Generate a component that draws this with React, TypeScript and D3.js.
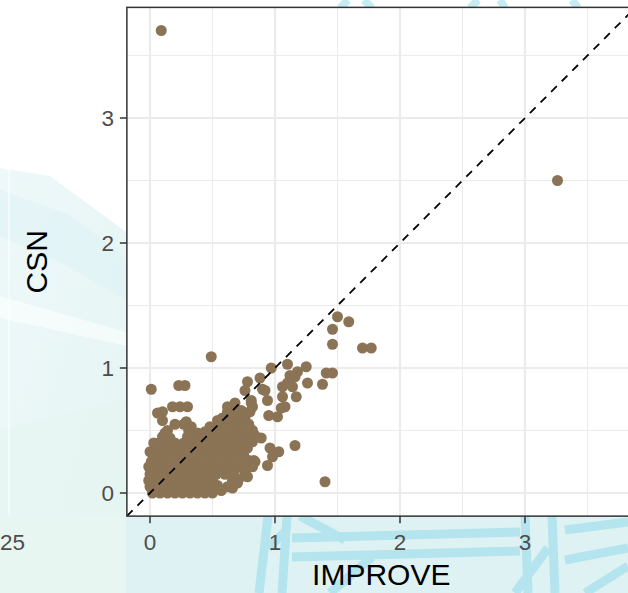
import React, { useEffect } from "react";
import * as d3 from "d3";

// [IMPROVE, CSN] pairs
const outliers: [number, number][] = [
  [0.09, 3.7], [3.26, 2.5], [0.49, 1.09], [0.01, 0.83], [1.4, 0.09], [1.16, 0.38],
];

const upperArm: [number, number][] = [
  [1.5, 1.41], [1.59, 1.37], [1.46, 1.31], [1.46, 1.19], [1.7, 1.16], [1.77, 1.16],
  [0.97, 1.0], [1.1, 1.03], [1.25, 1.01], [1.41, 0.96], [1.46, 0.96], [1.38, 0.87],
  [1.26, 0.88], [1.17, 0.77], [1.12, 0.94], [1.16, 0.93], [1.1, 0.88], [1.14, 0.85],
  [1.18, 0.97], [1.06, 0.85], [1.06, 0.77], [1.05, 0.68], [1.02, 0.61], [0.95, 0.62],
  [0.9, 0.83], [0.94, 0.74], [0.88, 0.92], [0.78, 0.89], [0.76, 0.82], [0.92, 0.82],
  [0.81, 0.74], [0.82, 0.69], [1.08, 0.69],
  [0.89, 0.44], [0.96, 0.36], [1.03, 0.33], [0.98, 0.29], [0.94, 0.22], [0.83, 0.26], [0.82, 0.21],
];

const blobEdge: [number, number][] = [
  [0.23, 0.86], [0.28, 0.86], [0.18, 0.69], [0.24, 0.69], [0.3, 0.69], [0.06, 0.64],
  [0.1, 0.65], [0.1, 0.58], [0.29, 0.57], [0.33, 0.53], [0.12, 0.48], [0.0, 0.33], [-0.01, 0.21],
  [0.65, 0.68], [0.62, 0.69], [0.73, 0.66], [0.81, 0.72], [0.68, 0.72], [0.54, 0.58],
  [0.44, 0.49], [0.48, 0.53], [0.54, 0.06], [0.62, 0.05], [0.7, 0.08], [0.78, 0.13], [0.84, 0.25],
  [-0.01, 0.1], [0.03, 0.4], [0.57, 0.02], [0.66, 0.04],
];

const blobCore: [number, number][] = [
  [0.02, 0.0], [0.08, 0.0], [0.14, 0.0], [0.2, 0.0], [0.26, 0.0], [0.32, 0.0], [0.38, 0.0], [0.44, 0.0], [0.5, 0.0],
  [0.0, 0.05], [0.05, 0.05], [0.11, 0.05], [0.17, 0.05], [0.23, 0.05], [0.29, 0.05], [0.35, 0.05], [0.41, 0.05], [0.47, 0.05],
  [0.02, 0.1], [0.08, 0.1], [0.14, 0.1], [0.2, 0.1], [0.26, 0.1], [0.32, 0.1], [0.38, 0.1], [0.44, 0.1], [0.5, 0.1], [0.66, 0.1], [0.71, 0.11],
  [0.0, 0.15], [0.05, 0.15], [0.11, 0.15], [0.17, 0.15], [0.23, 0.15], [0.29, 0.15], [0.35, 0.15], [0.41, 0.15], [0.47, 0.15], [0.53, 0.15], [0.6, 0.15], [0.67, 0.15], [0.76, 0.16],
  [0.02, 0.2], [0.08, 0.2], [0.14, 0.2], [0.2, 0.2], [0.26, 0.2], [0.32, 0.2], [0.38, 0.2], [0.44, 0.2], [0.5, 0.2], [0.56, 0.2], [0.62, 0.2], [0.68, 0.2], [0.74, 0.2],
  [0.01, 0.25], [0.06, 0.25], [0.12, 0.25], [0.18, 0.25], [0.24, 0.25], [0.3, 0.25], [0.36, 0.25], [0.42, 0.25], [0.48, 0.25], [0.54, 0.25], [0.6, 0.25], [0.66, 0.25], [0.72, 0.25], [0.79, 0.26],
  [0.03, 0.3], [0.09, 0.3], [0.15, 0.3], [0.21, 0.3], [0.27, 0.3], [0.33, 0.3], [0.39, 0.3], [0.45, 0.3], [0.51, 0.3], [0.57, 0.3], [0.63, 0.3], [0.69, 0.3], [0.75, 0.3],
  [0.05, 0.35], [0.12, 0.35], [0.18, 0.35], [0.24, 0.35], [0.3, 0.35], [0.36, 0.35], [0.42, 0.35], [0.48, 0.35], [0.54, 0.35], [0.6, 0.35], [0.66, 0.35], [0.72, 0.35], [0.78, 0.36],
  [0.07, 0.4], [0.14, 0.4], [0.2, 0.4], [0.27, 0.4], [0.33, 0.4], [0.39, 0.4], [0.45, 0.4], [0.51, 0.4], [0.57, 0.4], [0.63, 0.4], [0.69, 0.4], [0.75, 0.4], [0.82, 0.41],
  [0.1, 0.45], [0.16, 0.44], [0.3, 0.45], [0.36, 0.45], [0.42, 0.45], [0.48, 0.45], [0.54, 0.45], [0.6, 0.45], [0.66, 0.45], [0.72, 0.45], [0.78, 0.45], [0.84, 0.46],
  [0.14, 0.5], [0.31, 0.5], [0.38, 0.48], [0.52, 0.5], [0.58, 0.5], [0.64, 0.5], [0.7, 0.5], [0.76, 0.5], [0.82, 0.5],
  [0.2, 0.55], [0.27, 0.55], [0.55, 0.55], [0.61, 0.55], [0.67, 0.55], [0.73, 0.55], [0.79, 0.55],
  [0.58, 0.6], [0.64, 0.6], [0.7, 0.6], [0.76, 0.6], [0.62, 0.65], [0.68, 0.65], [0.74, 0.65], [0.8, 0.65],
];

const majorBreaks = [0, 1, 2, 3];
const minorBreaks = [0.5, 1.5, 2.5, 3.5];
const tickLabels = ["0", "1", "2", "3"];

const W = 628;
const H = 593;
const font = "'Liberation Sans', Arial, Helvetica, sans-serif";

const App: React.FC = () => {
  useEffect(() => {
    document.body.style.margin = "0";
  }, []);

  const lim: [number, number] = [-0.185, 3.885];
  const x = d3.scaleLinear().domain(lim).range([150 - 0.185 * 125, 150 + 3.885 * 125]);
  const y = d3.scaleLinear().domain(lim).range([493 + 0.185 * 125, 493 - 3.885 * 125]);
  const [x0, x1] = x.range();
  const [y0, y1] = y.range();

  const allPoints = [...blobCore, ...blobEdge, ...upperArm, ...outliers];
  const diag = d3.line<number>().x(d => x(d)).y(d => y(d))(lim) as string;

  const strut = "#b4e4ee";

  return (
    <svg width={W} height={H} style={{ display: "block" }} fontFamily={font}>
      <defs>
        <clipPath id="panel">
          <rect x={x0} y={y1} width={x1 - x0} height={y0 - y1} />
        </clipPath>
        <linearGradient id="wash" x1="0" y1="0" x2="1" y2="1">
          <stop offset="0" stopColor="#eef8fa" />
          <stop offset="1" stopColor="#e4f4f2" />
        </linearGradient>
      </defs>

      {/* watercolour backdrop */}
      <rect width={W} height={H} fill="#ffffff" />
      <path d="M0,168 L50,176 L126,232 L126,593 L0,593 Z" fill="url(#wash)" />
      <path d="M0,190 L70,215 L126,258 L126,300 L60,262 L0,236 Z" fill="#dcf1f6" opacity={0.5} />
      <path d="M0,296 L126,332 L126,346 L0,318 Z" fill="#ffffff" opacity={0.55} />
      <path d="M0,430 L126,400 L126,593 L0,593 Z" fill="#e6f5f0" opacity={0.5} />
      <line x1={9} y1={140} x2={9} y2={593} stroke="#ffffff" strokeWidth={1.5} opacity={0.7} />
      <rect x={126} y={516} width={W - 126} height={H - 516} fill="#dff2f3" />
      <rect x={0} y={516} width={126} height={H - 516} fill="#e8f6f2" />
      <g stroke={strut} strokeWidth={9} fill="none" strokeLinecap="butt">
        <line x1={268} y1={516} x2={259} y2={593} />
        <line x1={287} y1={516} x2={282} y2={593} />
        <line x1={268} y1={548} x2={287} y2={530} />
        <line x1={300} y1={516} x2={345} y2={540} />
        <line x1={292} y1={538} x2={520} y2={532} />
        <line x1={292} y1={557} x2={520} y2={551} />
        <line x1={330} y1={593} x2={372} y2={557} />
        <line x1={525} y1={516} x2={528} y2={593} />
        <line x1={552} y1={516} x2={555} y2={593} />
        <line x1={515} y1={593} x2={548} y2={548} />
        <line x1={565} y1={530} x2={628} y2={522} />
        <line x1={565} y1={560} x2={628} y2={548} />
        <line x1={585} y1={593} x2={628} y2={566} />
      </g>
      <g stroke="#c4ecf4" strokeWidth={8} fill="none">
        <line x1={340} y1={8} x2={348} y2={0} />
        <line x1={372} y1={8} x2={364} y2={0} />
        <line x1={470} y1={8} x2={478} y2={0} />
        <line x1={505} y1={8} x2={500} y2={0} />
        <line x1={578} y1={8} x2={572} y2={0} />
      </g>

      {/* panel */}
      <rect x={x0} y={y1} width={x1 - x0} height={y0 - y1} fill="#ffffff" />
      <g clipPath="url(#panel)">
        {minorBreaks.map(b => (
          <g key={`mn${b}`} stroke="#ebebeb" strokeWidth={1}>
            <line x1={x(b)} x2={x(b)} y1={y1} y2={y0} />
            <line x1={x0} x2={x1} y1={y(b)} y2={y(b)} />
          </g>
        ))}
        {majorBreaks.map(b => (
          <g key={`mj${b}`} stroke="#ebebeb" strokeWidth={2.2}>
            <line x1={x(b)} x2={x(b)} y1={y1} y2={y0} />
            <line x1={x0} x2={x1} y1={y(b)} y2={y(b)} />
          </g>
        ))}
        {allPoints.map(([a, b], i) => (
          <circle key={i} cx={x(a)} cy={y(b)} r={5.5} fill="#8b7355" />
        ))}
        <path d={diag} stroke="#000000" strokeWidth={1.8} strokeDasharray="8,7" fill="none" />
      </g>
      <rect x={x0} y={y1} width={x1 - x0} height={y0 - y1} fill="none" stroke="#333333" strokeWidth={1.5} />

      {/* axes */}
      {majorBreaks.map((b, i) => (
        <g key={`ax${b}`}>
          <line x1={x(b)} x2={x(b)} y1={y0} y2={y0 + 7} stroke="#333333" strokeWidth={1.5} />
          <text x={x(b)} y={550} textAnchor="middle" fontSize={22.5} fill="#4d4d4d">{tickLabels[i]}</text>
          <line x1={x0 - 7} x2={x0} y1={y(b)} y2={y(b)} stroke="#333333" strokeWidth={1.5} />
          <text x={114} y={y(b) + 8} textAnchor="end" fontSize={22.5} fill="#4d4d4d">{tickLabels[i]}</text>
        </g>
      ))}
      <text x={0} y={550} textAnchor="start" fontSize={22.5} fill="#4d4d4d">25</text>
      <text x={(x0 + x1) / 2} y={585} textAnchor="middle" fontSize={30} fill="#000000">IMPROVE</text>
      <text
        transform={`translate(47,${(y0 + y1) / 2}) rotate(-90)`}
        textAnchor="middle"
        fontSize={30}
        fill="#000000"
      >
        CSN
      </text>
    </svg>
  );
};

export default App;
